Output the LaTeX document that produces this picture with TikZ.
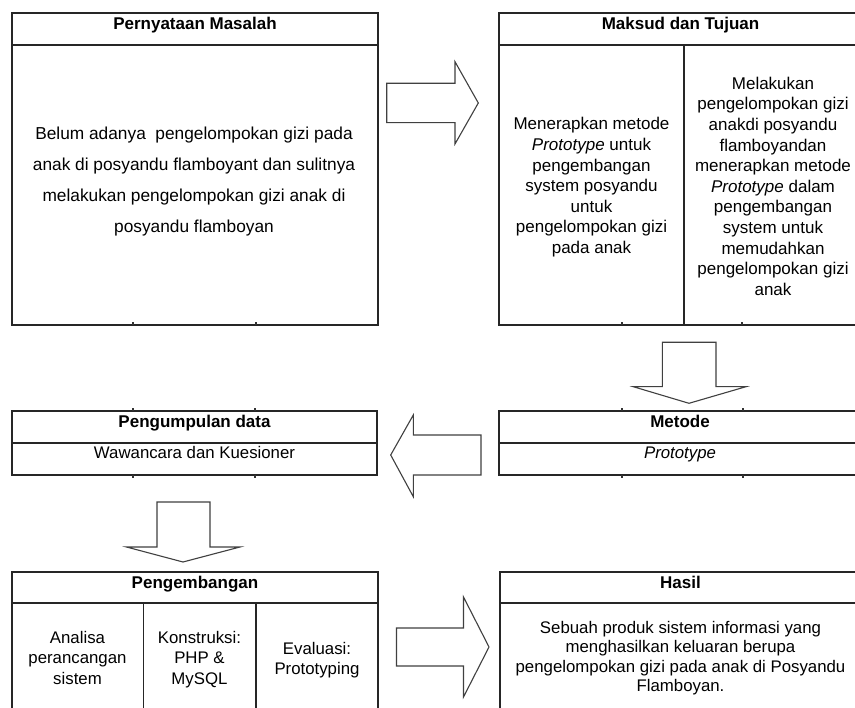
\documentclass[tikz,border=0pt]{standalone}
\usepackage{fontspec}
\setmainfont{Liberation Sans}
\begin{document}
\begin{tikzpicture}[x=1pt,y=-1pt,
  boxsty/.style={draw=black!85,line width=1.8pt,inner sep=0pt,outer sep=0pt,anchor=north west},
  inline/.style={draw=black!85,line width=1.8pt},
  tick/.style={draw=black!80,line width=1.2pt},
  blockarrow/.style={draw=black!75,line width=1.1pt,fill=white,line join=miter},
  hdr/.style={font=\bfseries\fontsize{17}{20}\selectfont,anchor=base,inner sep=0pt},
  txt/.style={font=\fontsize{17}{20.6}\selectfont,anchor=base,inner sep=0pt,align=center},
  txtlow/.style={font=\fontsize{16.8}{20.5}\selectfont,anchor=base,inner sep=0pt,align=center}]
\useasboundingbox (0,0) rectangle (855,708);
\fill[white] (0,0) rectangle (855,708);
\clip (0,0) rectangle (855,708);

% ---------- boxes ----------
\node[boxsty,minimum width=366pt,minimum height=312pt] (pm) at (12,13) {};
\draw[inline] (12,45) -- (378,45);
\node[boxsty,minimum width=363pt,minimum height=312pt] (mt) at (499,13) {};
\draw[inline] (499,45) -- (862,45);
\draw[inline] (684,45) -- (684,325);
\node[boxsty,minimum width=365pt,minimum height=64pt] (pd) at (12,411) {};
\draw[inline] (12,443) -- (377,443);
\node[boxsty,minimum width=363pt,minimum height=64pt] (me) at (499,411) {};
\draw[inline] (499,443) -- (862,443);
\node[boxsty,minimum width=366pt,minimum height=148pt] (pg) at (12,572) {};
\draw[inline] (12,603) -- (378,603);
\draw[inline] (143.5,603) -- (143.5,720);
\draw[inline] (256,603) -- (256,720);
\node[boxsty,minimum width=362pt,minimum height=148pt] (hs) at (500,572) {};
\draw[inline] (500,603) -- (862,603);

% ---------- small ticks ----------
\foreach \x in {133,256} \draw[tick] (\x,325) -- (\x,322);
\foreach \x in {622,742} \draw[tick] (\x,325) -- (\x,322);
\foreach \x in {133,255} {\draw[tick] (\x,411) -- (\x,408); \draw[tick] (\x,475) -- (\x,478);}
\foreach \x in {622,743} {\draw[tick] (\x,411) -- (\x,408); \draw[tick] (\x,475) -- (\x,478);}

% ---------- block arrows ----------
\draw[blockarrow] (386.7,83.3) -- (455,83.3) -- (455,61.7) -- (478.3,103) -- (455,144) -- (455,122.7) -- (386.7,122.7) -- cycle;
\draw[blockarrow] (662.3,342.3) -- (716,342.3) -- (716,386.7) -- (746,386.7) -- (689,403.3) -- (633.3,386.7) -- (662.3,386.7) -- cycle;
\draw[blockarrow] (481,435) -- (413.3,435) -- (413.3,415) -- (390.7,455) -- (413.3,496.7) -- (413.3,475) -- (481,475) -- cycle;
\draw[blockarrow] (157,502) -- (210,502) -- (210,547) -- (240,547) -- (183,562) -- (126.5,547) -- (157,547) -- cycle;
\draw[blockarrow] (396.5,628) -- (463.5,628) -- (463.5,597) -- (489,647) -- (463.5,697) -- (463.5,666) -- (396.5,666) -- cycle;

% ---------- texts (base = baseline of last line) ----------
\node[hdr] (pmh) at (195,30) {Pernyataan Masalah};
\node[txt,font=\fontsize{17.3}{31}\selectfont] (pmt) at (194,233) {Belum adanya\ \ pengelompokan gizi pada\\anak di posyandu flamboyant dan sulitnya\\melakukan pengelompokan gizi anak di\\posyandu flamboyan};

\node[hdr] (mth) at (680.5,30) {Maksud dan Tujuan};
\node[txt] (mtl) at (591.5,253.6) {Menerapkan metode\\\textit{Prototype} untuk\\pengembangan\\system posyandu\\untuk\\pengelompokan gizi\\pada anak};
\node[txt] (mtr) at (773,295.3) {Melakukan\\pengelompokan gizi\\anakdi posyandu\\flamboyandan\\menerapkan metode\\\textit{Prototype} dalam\\pengembangan\\system untuk\\memudahkan\\pengelompokan gizi\\anak};

\node[hdr] (pdh) at (194.5,427.3) {Pengumpulan data};
\node[txtlow] (pdt) at (194.5,459) {Wawancara dan Kuesioner};

\node[hdr] (meh) at (680,427.3) {Metode};
\node[txtlow] (met) at (680,459) {\textit{Prototype}};

\node[hdr] (pgh) at (195,588.3) {Pengembangan};
\node[txtlow] (pg1) at (77.5,684.3) {Analisa\\perancangan\\sistem};
\node[txtlow] (pg2) at (199.5,684.3) {Konstruksi:\\PHP \&\\MySQL};
\node[txtlow] (pg3) at (317,674.5) {Evaluasi:\\Prototyping};

\node[hdr] (hsh) at (680.5,588.3) {Hasil};
\node[txtlow,font=\fontsize{16.8}{19.4}\selectfont] (hst) at (680.5,691.5) {Sebuah produk sistem informasi yang\\menghasilkan keluaran berupa\\pengelompokan gizi pada anak di Posyandu\\Flamboyan.};
\end{tikzpicture}
\end{document}
